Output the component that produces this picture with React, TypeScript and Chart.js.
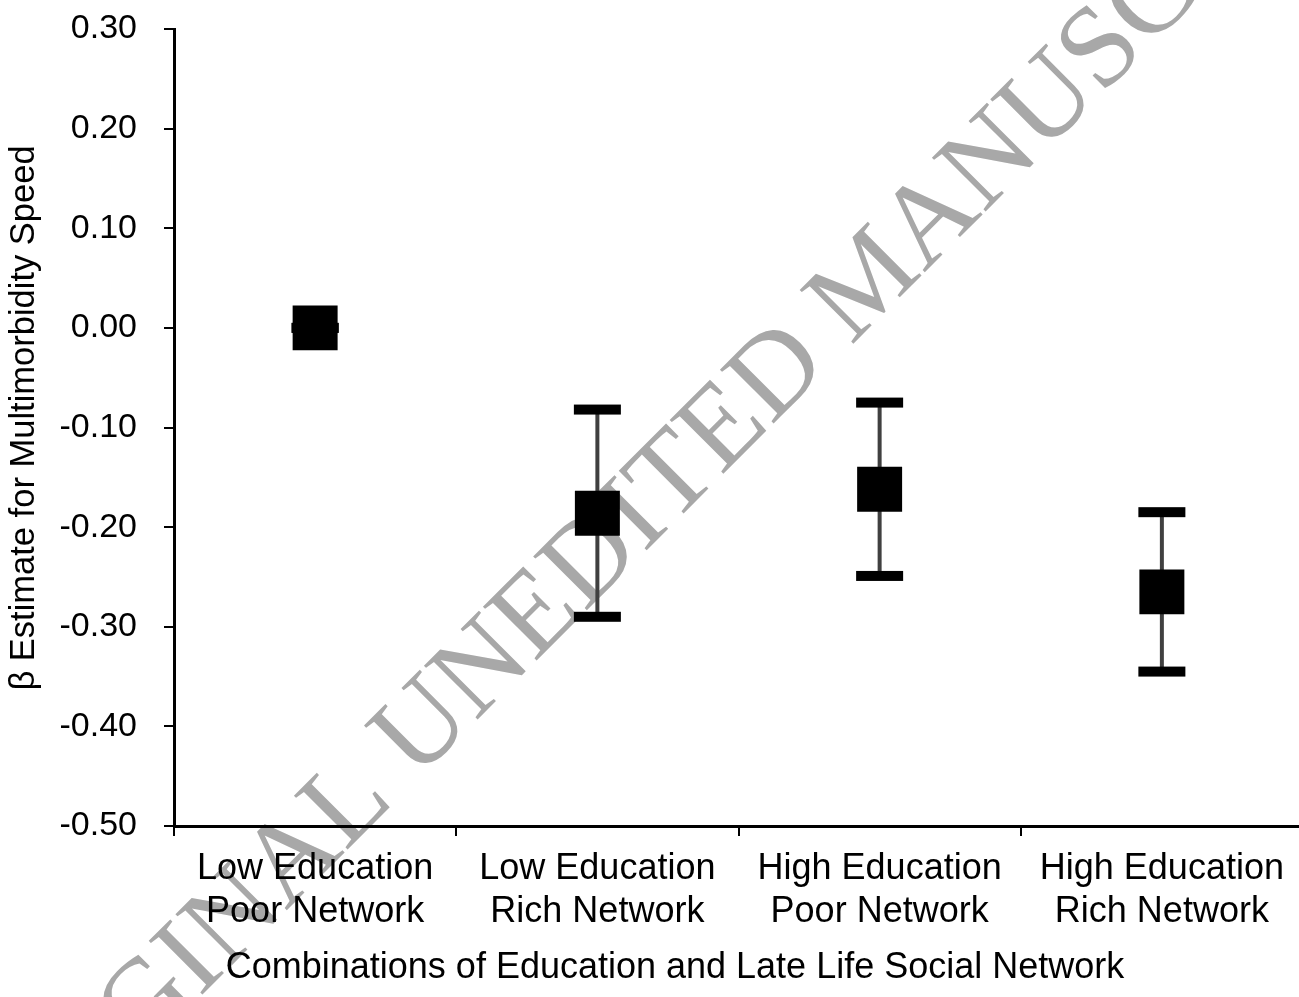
import { useEffect, useRef } from "react";
import { Chart, registerables } from "chart.js";

Chart.register(...registerables);

const categories = [
  ["Low Education", "Poor Network"],
  ["Low Education", "Rich Network"],
  ["High Education", "Poor Network"],
  ["High Education", "Rich Network"],
];
const estimates = [0.0, -0.186, -0.162, -0.265];
const lowerCI = [0.0, -0.29, -0.249, -0.345];
const upperCI = [0.0, -0.082, -0.075, -0.185];
const yMin = -0.5;
const yMax = 0.3;
const yStep = 0.1;
const xAxisTitle = "Combinations of Education and Late Life Social Network";
const yAxisTitle = "β Estimate for Multimorbidity Speed";
const watermarkText = "ORIGINAL UNEDITED MANUSCRIPT";

const SANS = '"Liberation Sans", Arial, sans-serif';

const watermarkPlugin = {
  id: "watermark",
  beforeDraw(chart: any) {
    const ctx = chart.ctx as CanvasRenderingContext2D;
    ctx.save();
    ctx.translate(-1, 1198);
    ctx.rotate(-Math.PI / 4);
    ctx.font = '116px "Liberation Serif", "Times New Roman", serif';
    ctx.fillStyle = "rgb(168,168,168)";
    ctx.textBaseline = "alphabetic";
    ctx.textAlign = "left";
    ctx.fillText(watermarkText, 0, 0);
    ctx.restore();
  },
};

const axisTitlesPlugin = {
  id: "axisTitles",
  afterDraw(chart: any) {
    const ctx = chart.ctx as CanvasRenderingContext2D;
    const area = chart.chartArea;
    ctx.save();
    ctx.fillStyle = "#000";
    ctx.textAlign = "center";
    ctx.textBaseline = "middle";
    ctx.font = `36px ${SANS}`;
    ctx.fillText(xAxisTitle, area.left + 501, chart.height - 29);
    ctx.translate(24, area.top + 389);
    ctx.rotate(-Math.PI / 2);
    ctx.font = `34.5px ${SANS}`;
    ctx.fillText(yAxisTitle, 0, 0);
    ctx.restore();
  },
};

const errorBarPlugin = {
  id: "errorBars",
  beforeDatasetsDraw(chart: any) {
    const ctx = chart.ctx as CanvasRenderingContext2D;
    const yScale = chart.scales.y;
    const meta = chart.getDatasetMeta(0);
    ctx.save();
    meta.data.forEach((pt: any, i: number) => {
      const px = pt.x;
      const yu = yScale.getPixelForValue(upperCI[i]);
      const yl = yScale.getPixelForValue(lowerCI[i]);
      ctx.strokeStyle = "#404040";
      ctx.lineWidth = 4;
      ctx.beginPath();
      ctx.moveTo(px, yu);
      ctx.lineTo(px, yl);
      ctx.stroke();
      ctx.fillStyle = "#000";
      ctx.fillRect(px - 23.5, yu - 5, 47, 10);
      ctx.fillRect(px - 23.5, yl - 5, 47, 10);
    });
    ctx.restore();
  },
};

export default function App() {
  const ref = useRef<HTMLCanvasElement | null>(null);
  useEffect(() => {
    document.body.style.margin = "0";
    document.body.style.overflow = "hidden";
    if (!ref.current) return;
    const chart = new Chart(ref.current, {
      type: "line",
      data: {
        labels: categories as any,
        datasets: [
          {
            data: estimates,
            showLine: false,
            pointStyle: "rect",
            pointRadius: 31.8,
            pointBackgroundColor: "#000",
            pointBorderColor: "#000",
            pointBorderWidth: 0,
            borderColor: "#000",
            backgroundColor: "#000",
            clip: false as any,
          },
        ],
      },
      options: {
        responsive: false,
        animation: false,
        events: [],
        layout: { autoPadding: false, padding: { left: 0, right: 2, top: 29, bottom: 0 } },
        plugins: {
          legend: { display: false },
          tooltip: { enabled: false },
          title: { display: false },
        },
        scales: {
          x: {
            type: "category",
            offset: true,
            grid: {
              display: true,
              offset: true,
              drawOnChartArea: false,
              drawTicks: true,
              tickLength: 10,
              color: "#000",
              lineWidth: 2,
            },
            border: { display: true, color: "#000", width: 3 },
            ticks: {
              color: "#000",
              font: { family: SANS, size: 36, lineHeight: 1.19 },
              padding: 12,
              maxRotation: 0,
              minRotation: 0,
              autoSkip: false,
            },
            title: { display: false },
            afterFit: (s: any) => {
              s.height = 171;
              s.paddingLeft = 0;
              s.paddingRight = 0;
            },
          },
          y: {
            min: yMin,
            max: yMax,
            grid: {
              display: true,
              drawOnChartArea: false,
              drawTicks: true,
              tickLength: 10,
              color: "#000",
              lineWidth: 2,
            },
            border: { display: true, color: "#000", width: 3 },
            ticks: {
              stepSize: yStep,
              color: "#000",
              font: { family: SANS, size: 34 },
              padding: 27,
              callback: (v: any) => Number(v).toFixed(2),
            },
            title: { display: false },
            afterFit: (s: any) => {
              s.width = 174;
              s.paddingTop = 0;
              s.paddingBottom = 0;
            },
          },
        },
      },
      plugins: [watermarkPlugin, errorBarPlugin, axisTitlesPlugin],
    });
    return () => chart.destroy();
  }, []);
  return (
    <canvas
      ref={ref}
      width={1305}
      height={997}
      style={{ display: "block", width: 1305, height: 997 }}
    />
  );
}
